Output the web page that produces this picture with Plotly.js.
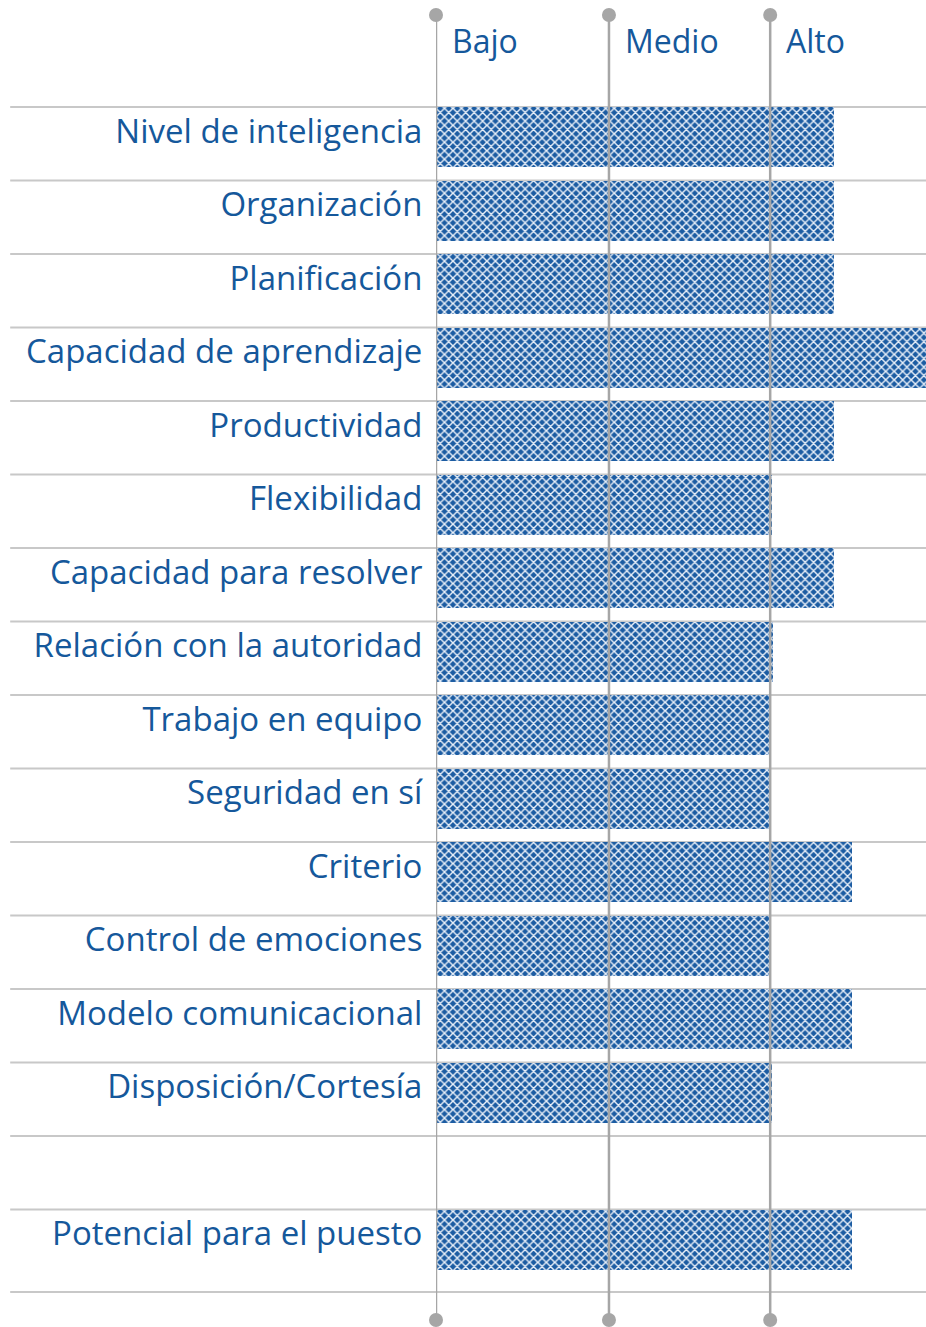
<!DOCTYPE html>
<html>
<head>
<meta charset="utf-8">
<script src="https://cdn.plot.ly/plotly-3.0.1.min.js"></script>
<style>html,body{margin:0;padding:0;background:#fff;}#chart{width:926px;height:1327px;}</style>
</head>
<body>
<div id="chart"></div>
<script>
var categories = ['Nivel de inteligencia','Organización','Planificación','Capacidad de aprendizaje','Productividad','Flexibilidad','Capacidad para resolver','Relación con la autoridad','Trabajo en equipo','Seguridad en sí','Criterio','Control de emociones','Modelo comunicacional','Disposición/Cortesía',' ','Potencial para el puesto'];
var values = [81.2, 81.2, 81.2, 105, 81.2, 68.6, 81.2, 68.8, 68.0, 68.0, 84.9, 68.0, 84.9, 68.6, null, 84.9];
var levelLabels = ['Bajo','Medio','Alto'];
var levelValues = [0, 35.3, 68.2];

var blue = '#1c5ca2';
var textBlue = '#15589b';
var gray = '#a6a6a6';

var traces = [{
  type: 'bar',
  orientation: 'h',
  y: categories,
  x: values,
  width: 0.816,
  marker: {
    color: blue,
    line: {width: 0},
    pattern: {shape: 'x', bgcolor: blue, fgcolor: '#e9f0f9', size: 6, solidity: 0.42}
  },
  hoverinfo: 'x+y',
  showlegend: false
}];

levelValues.forEach(function (v) {
  traces.push({
    type: 'scatter',
    mode: 'lines+markers',
    x: [v, v],
    y: [0, 1],
    yaxis: 'y2',
    cliponaxis: false,
    line: {color: gray, width: 2.5},
    marker: {color: gray, size: 14},
    hoverinfo: 'skip',
    showlegend: false
  });
});

var shapes = [];
for (var i = 0; i < categories.length; i++) {
  shapes.push({
    type: 'line', xref: 'paper', yref: 'y',
    x0: -0.869, x1: 1, y0: i - 0.408, y1: i - 0.408,
    line: {color: '#c8c8c8', width: 2},
    layer: 'below'
  });
}
// closing line under the last row
shapes.push({
  type: 'line', xref: 'paper', yref: 'paper',
  x0: -0.869, x1: 1, y0: 0.0215, y1: 0.0215,
  line: {color: '#c8c8c8', width: 2},
  layer: 'below'
});

var annotations = levelLabels.map(function (t, k) {
  return {
    text: t, x: levelValues[k], xref: 'x', xanchor: 'left', xshift: 14,
    y: 1 - (40 - 15) / 1305, yref: 'paper', yanchor: 'middle', showarrow: false,
    font: {family: 'Open Sans, sans-serif', size: 32, color: textBlue}
  };
});

var layout = {
  width: 926, height: 1327,
  margin: {l: 436, r: 0, t: 15, b: 7, pad: 0},
  paper_bgcolor: '#ffffff', plot_bgcolor: 'rgba(0,0,0,0)',
  bargap: 0,
  xaxis: {range: [0, 100], showgrid: false, zeroline: false, showticklabels: false, showline: false, fixedrange: true},
  yaxis: {
    type: 'category', categoryorder: 'array', categoryarray: categories,
    range: [16.095, -1.660], showgrid: false, zeroline: false, showline: false,
    ticks: 'outside', ticklen: 6, tickcolor: 'rgba(0,0,0,0)',
    ticklabelshift: 6,
    tickfont: {family: 'Open Sans, sans-serif', size: 33, color: textBlue},
    fixedrange: true
  },
  yaxis2: {overlaying: 'y', range: [0, 1], visible: false, fixedrange: true},
  shapes: shapes,
  annotations: annotations
};

Plotly.newPlot('chart', traces, layout, {displayModeBar: false, staticPlot: true});
</script>
</body>
</html>
